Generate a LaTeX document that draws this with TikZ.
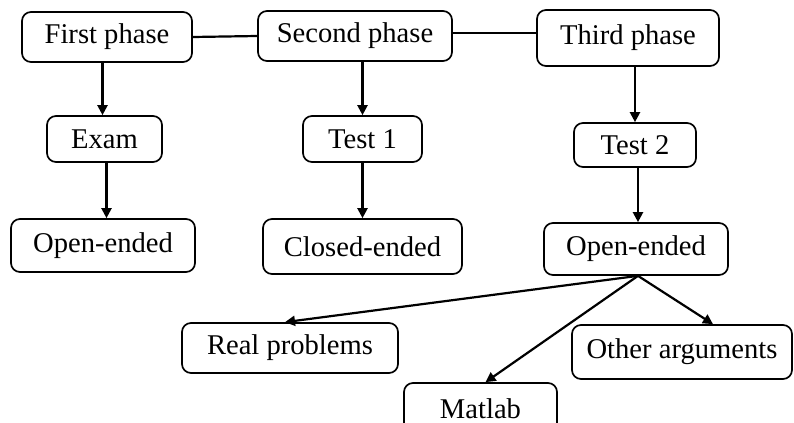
\documentclass[tikz,border=0pt]{standalone}
\usepackage{fontspec}
\setmainfont{Liberation Serif}
\usetikzlibrary{arrows.meta}
\begin{document}
\begin{tikzpicture}[x=0.5pt,y=-0.5pt,
  box/.style={draw, line width=0.85pt, rounded corners=4.5pt, inner sep=0pt,
    font=\fontsize{14.3}{17}\selectfont},
  link/.style={line width=1.1pt},
  arr/.style={line width=1.1pt, -{Triangle[length=5pt,width=5pt]}}]
\useasboundingbox (0,0) rectangle (794,423);
\begin{scope}
\clip (0,0) rectangle (794,423);
\node[box, minimum width=85pt, minimum height=25pt] (first) at (107,37) {First phase};
\node[box, minimum width=97pt, minimum height=25pt] (second) at (355,36) {Second phase};
\node[box, minimum width=91pt, minimum height=28pt] (third) at (628,38) {Third phase};
\node[box, minimum width=57.5pt, minimum height=23pt] (exam) at (104.5,139) {Exam};
\node[box, minimum width=59.5pt, minimum height=23pt] (test1) at (362.5,139) {Test 1};
\node[box, minimum width=61pt, minimum height=22pt] (test2) at (635,145) {Test 2};
\node[box, minimum width=92pt, minimum height=26.5pt] (open1) at (103,245.5) {Open-ended};
\node[box, minimum width=99.5pt, minimum height=27.5pt] (closed) at (362.5,246.5) {Closed-ended};
\node[box, minimum width=92pt, minimum height=26pt] (open2) at (636,249) {Open-ended};
\node[box, minimum width=108pt, minimum height=25pt] (real) at (290,348) {Real problems};
\node[box, minimum width=110pt, minimum height=27pt] (other) at (682,352) {Other arguments};
\node[box, minimum width=76.5pt, minimum height=26pt] (matlab) at (480.5,409) {Matlab};
\end{scope}
\draw[link] (first.east) -- (second.west);
\draw[link] ([yshift=1.5pt]second.east) -- ([yshift=1.5pt]third.west |- second.east);
\draw[arr] ([xshift=-1pt]exam.north |- first.south) -- ([xshift=-1pt]exam.north);
\draw[arr] (test1.north |- second.south) -- (test1.north);
\draw[arr] (test2.north |- third.south) -- (test2.north);
\draw[arr] ([xshift=1pt]exam.south) -- ([xshift=1pt]exam.south |- open1.north);
\draw[arr] (test1.south) -- (test1.south |- closed.north);
\draw[arr] ([xshift=1.5pt]test2.south) -- ([xshift=1.5pt]test2.south |- open2.north);
\draw[arr] ([xshift=1pt]open2.south) -- ([xshift=-2.5pt]real.north);
\draw[arr] ([xshift=1pt]open2.south) -- ([xshift=2.5pt]matlab.north);
\draw[arr] ([xshift=1pt]open2.south) -- ([xshift=15.5pt]other.north);
\end{tikzpicture}
\end{document}
